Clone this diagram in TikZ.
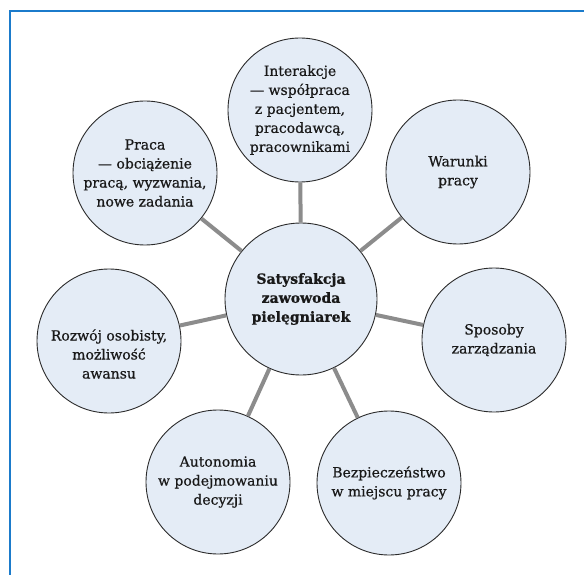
\documentclass[tikz,border=0pt]{standalone}
\usepackage{fontspec}
\setmainfont{DejaVu Serif}[UprightFeatures={FakeBold=0.6},BoldFeatures={FakeBold=0.8}]
\definecolor{bubblefill}{HTML}{E4ECF6}
\definecolor{bubbleline}{HTML}{2A2A2A}
\definecolor{spokegray}{HTML}{8C8C8C}
\definecolor{frameblue}{HTML}{1B7BCB}
\begin{document}
\begin{tikzpicture}[x=1pt,y=-1pt,
  bubble/.style={circle, draw=bubbleline, line width=0.9pt, fill=bubblefill,
    minimum size=144pt, inner sep=0pt, align=center, text=black!90,
    font=\fontsize{14}{19}\selectfont},
  hub/.style={bubble, minimum size=152pt, font=\fontsize{14}{19}\selectfont\bfseries},
  caption/.style={align=center, inner sep=0pt, text=black!90,
    font=\fontsize{14}{19}\selectfont},
  spoke/.style={draw=spokegray, line width=4pt}]
\useasboundingbox (0,0) rectangle (584,575);

% frame along the top and left edges
\draw[frameblue, line width=1.6pt] (10,590) -- (10,11) -- (600,11);

% hub and satellites
\node[hub] (hub) at (301,299) {Satysfakcja\\zawowoda\\pielęgniarek};
\node[bubble] (inter) at (300,110)
  {Interakcje\\— współpraca\\z pacjentem,\\pracodawcą,\\pracownikami};
\node[bubble] (warunki) at (458,172) {Warunki\\pracy};
\node[bubble] (sposoby) at (494,340) {Sposoby\\zarządzania};
\node[bubble] (bezp) at (389,483) {Bezpieczeństwo\\w miejscu pracy};
\node[bubble] (auton) at (218,482) {Autonomia\\w podejmowaniu\\decyzji};
\node[bubble] (rozwoj) at (109,341) {};
\node[caption] (rozwojtext) at ([yshift=-13pt]rozwoj.center)
  {Rozwój osobisty,\\możliwość\\awansu};
\node[bubble] (praca) at (145,173)
  {Praca\\— obciążenie\\pracą, wyzwania,\\nowe zadania};

% spokes from the hub
\foreach \n in {inter,warunki,sposoby,bezp,auton,rozwoj,praca}
  \draw[spoke] (hub) -- (\n);
\end{tikzpicture}
\end{document}
